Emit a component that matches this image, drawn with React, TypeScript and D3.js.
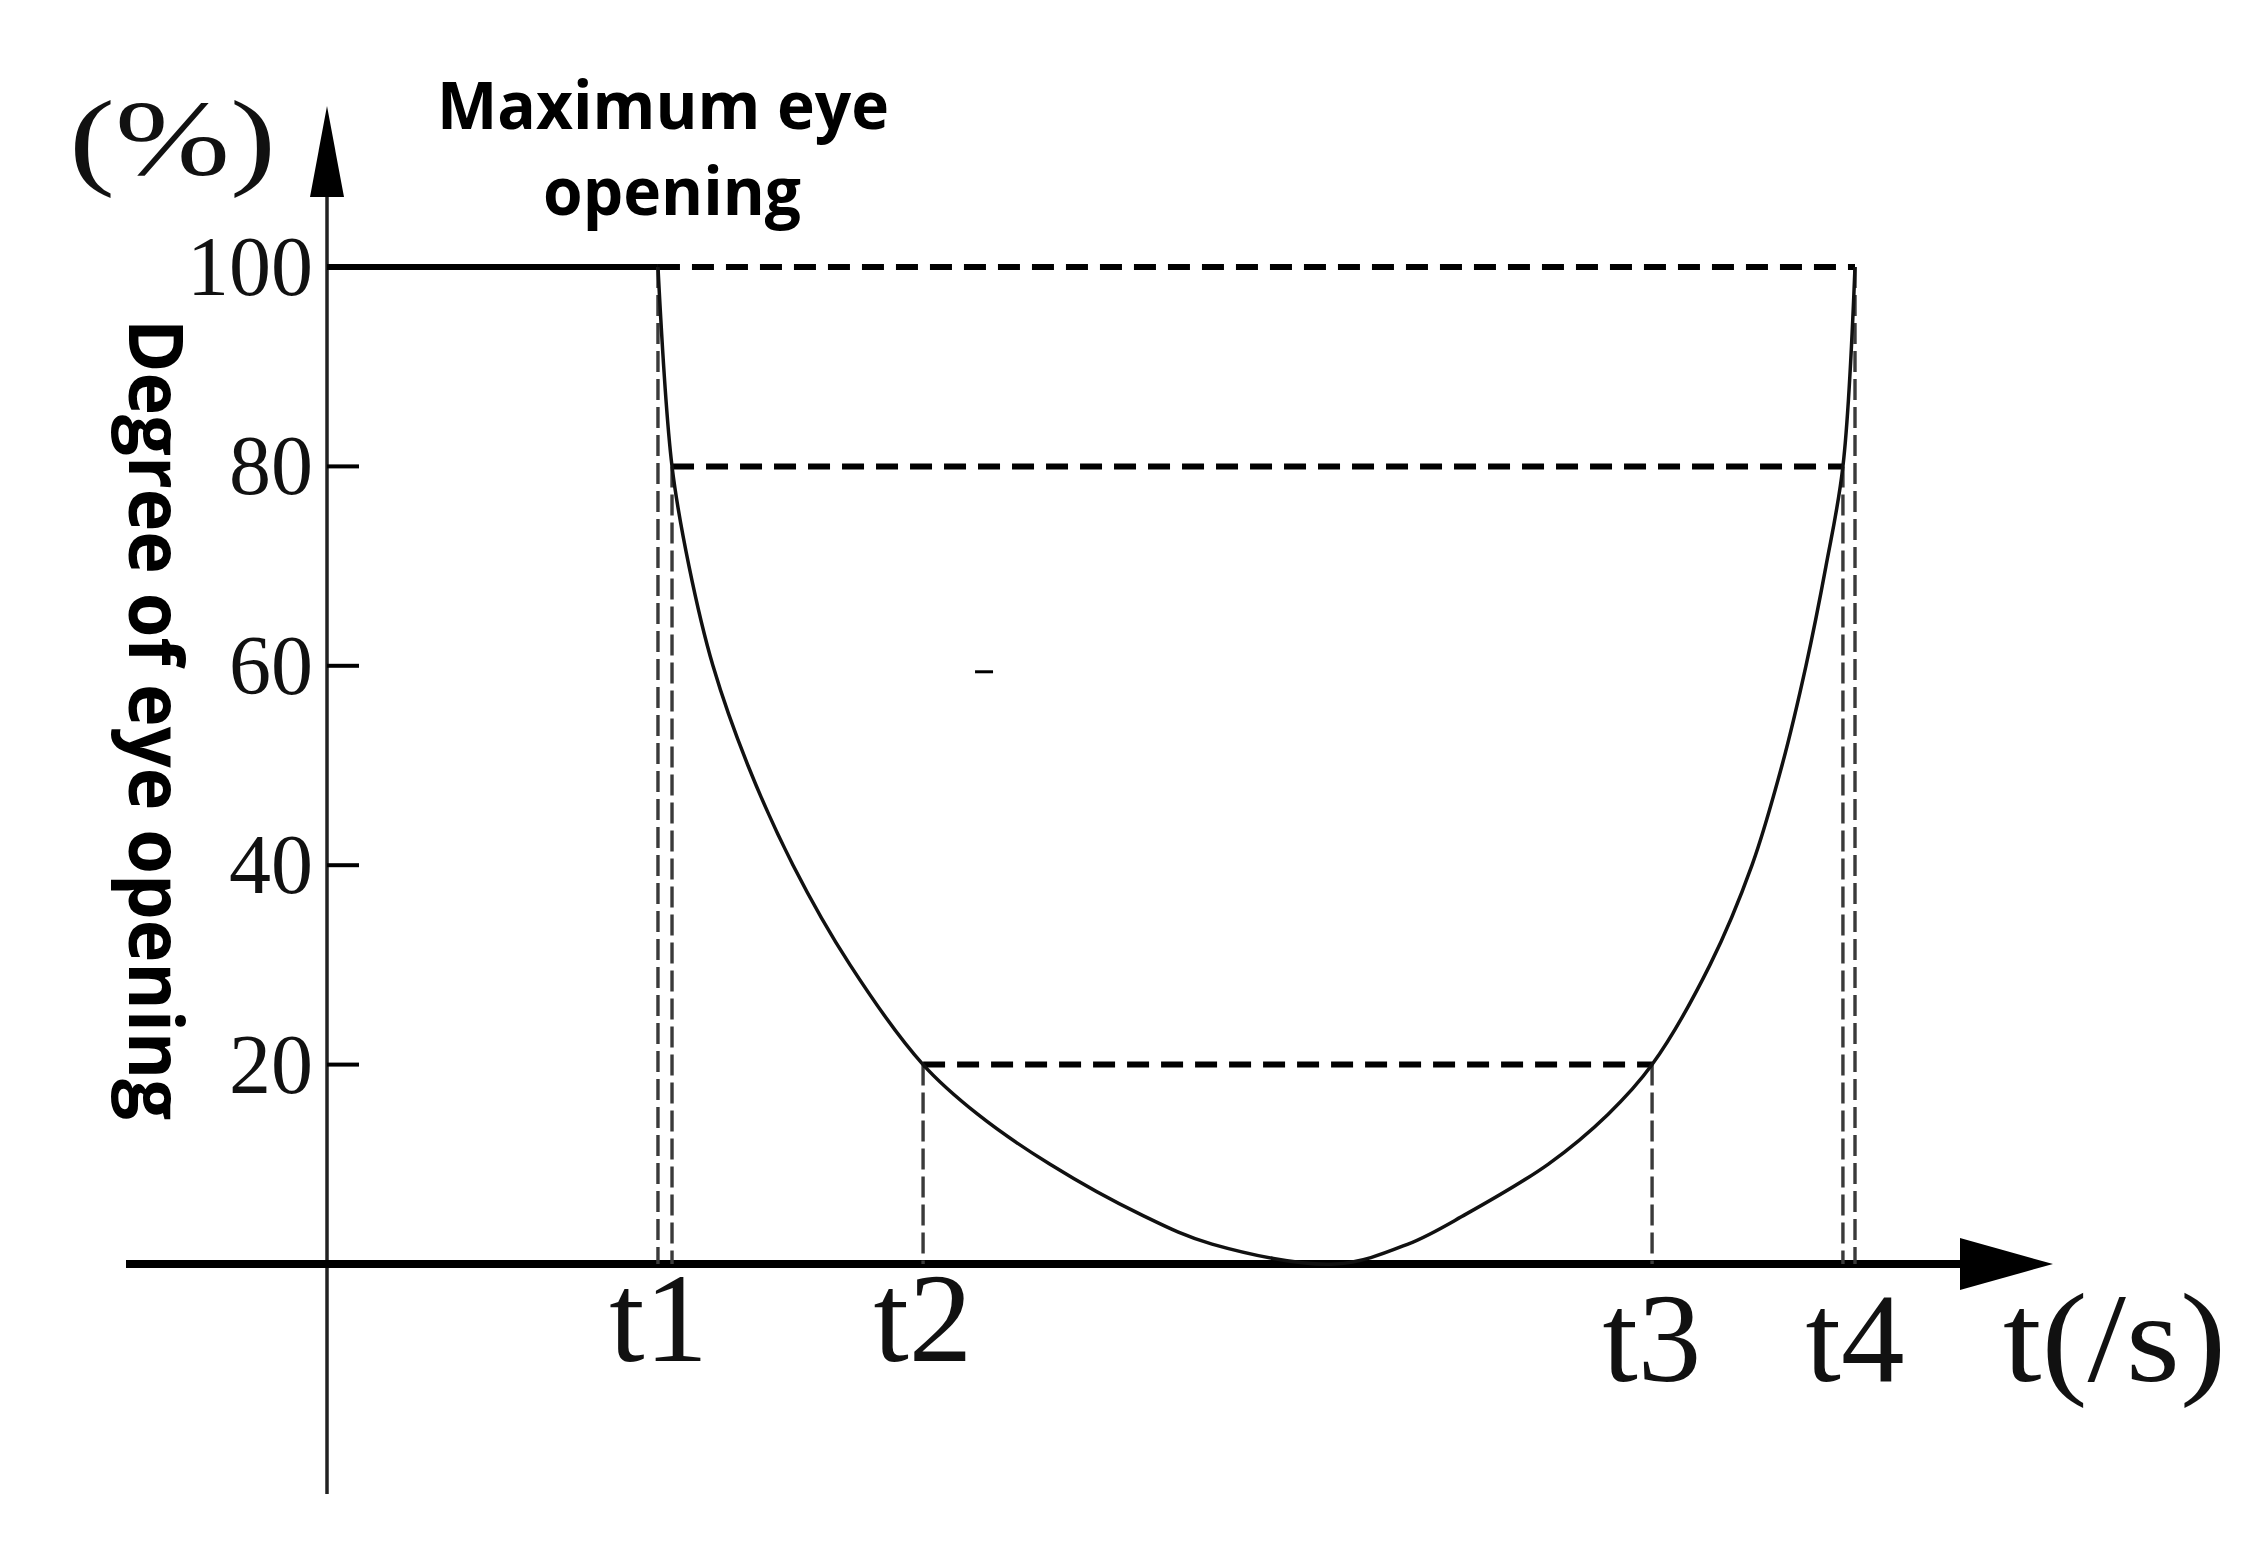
import React from 'react';
import * as d3 from 'd3';

// Eye opening curve (t in arbitrary time units, v in %)
const curveT = [2.166, 2.258, 2.369, 2.526, 2.755, 3.05, 3.423, 3.901, 4.26, 4.732, 5.321, 5.792, 6.597,
  7.075, 7.454, 7.991, 8.383, 8.672, 9.051, 9.326, 9.522, 9.679, 9.81, 9.921, 10.0];
const curveV = [100, 80, 70, 60, 50, 40, 30, 20, 15, 10, 5, 2, 0,
  2, 5, 10, 15, 20, 30, 40, 50, 60, 70, 80, 100];

// Y axis ticks
const yTicks = [20, 40, 60, 80, 100];
const yTickLabels = ['20', '40', '60', '80', '100'];

// Threshold crossings: t1 (100 / 80), t2 (20), t3 (20), t4 (80 / 100)
const crossT = [2.166, 2.258, 3.901, 8.672, 9.921, 10.0];
const crossV = [100, 80, 20, 20, 80, 100];

// Horizontal dashed guides: level, from, to
const guideLevel = [100, 80, 20];
const guideFrom = [2.166, 2.258, 3.901];
const guideTo = [10.0, 9.921, 8.672];

// X labels
const xLabels = ['t1', 't2', 't3', 't4'];
const xLabelT = [2.17, 3.9, 8.67, 10.0];

const maxLevel = 100;
const maxEndT = 2.166;

// small stray mark in the original figure
const strayT = 4.3;
const strayV = 59.4;

const W = 2252;
const H = 1541;

const serif = '"Liberation Serif", "Times New Roman", serif';
const sans = '"Open Sans", "Noto Sans", sans-serif';

const App = () => {
  const x = d3.scaleLinear().domain([0, 10]).range([327, 1855]);
  const y = d3.scaleLinear().domain([0, 100]).range([1264, 267]);

  const pts = curveT.map((t, i) => [t, curveV[i]] as [number, number]);
  const line = d3.line<[number, number]>()
    .x(d => x(d[0]))
    .y(d => y(d[1]))
    .curve(d3.curveCatmullRom.alpha(0.5));

  const x0 = x(0);
  const y0 = y(0);

  // axis extents / arrows
  const xAxisStart = 126;
  const xArrowBase = 1960;
  const xArrowTip = 2053;
  const yAxisBottom = 1494;
  const yArrowBase = 197;
  const yArrowTip = 106;

  return (
    <div style={{ position: 'absolute', left: 0, top: 0 }}>
      <svg width={W} height={H} style={{ display: 'block', background: '#fff' }}>
        {/* y axis */}
        <line x1={x0} x2={x0} y1={yAxisBottom} y2={yArrowBase} stroke="#222" strokeWidth={3.5} />
        <path d={`M${x0},${yArrowTip} L${x0 - 17},${yArrowBase} L${x0 + 17},${yArrowBase} Z`} fill="#000" />

        {/* x axis */}
        <line x1={xAxisStart} x2={xArrowBase} y1={y0} y2={y0} stroke="#000" strokeWidth={8} />
        <path d={`M${xArrowTip},${y0} L${xArrowBase},${y0 - 26} L${xArrowBase},${y0 + 26} Z`} fill="#000" />

        {/* y ticks */}
        {yTicks.filter(v => v < 100).map(v => (
          <line key={'tk' + v} x1={x0} x2={x0 + 32} y1={y(v)} y2={y(v)} stroke="#000" strokeWidth={4} />
        ))}
        {yTicks.map((v, i) => (
          <text key={'tl' + v} x={313} y={y(v) + 28} textAnchor="end" fontFamily={serif} fontSize={84} fill="#111">
            {yTickLabels[i]}
          </text>
        ))}

        {/* max opening solid segment */}
        <line x1={x0} x2={x(maxEndT)} y1={y(maxLevel)} y2={y(maxLevel)} stroke="#000" strokeWidth={6} />

        {/* vertical grey dashed drop lines */}
        {crossT.map((t, i) => (
          <line key={'v' + i} x1={x(t)} x2={x(t)} y1={y(crossV[i])} y2={y0}
            stroke="#3a3a3a" strokeWidth={3.4} strokeDasharray="21,7" />
        ))}

        {/* horizontal dashed guides */}
        {guideLevel.map((lv, i) => (
          <line key={'g' + i} x1={x(guideFrom[i])} x2={x(guideTo[i])} y1={y(lv)} y2={y(lv)}
            stroke="#000" strokeWidth={6} strokeDasharray="22,12" />
        ))}

        {/* curve */}
        <path d={line(pts) || ''} fill="none" stroke="#111" strokeWidth={3.5} />

        {/* stray mark */}
        <line x1={x(strayT) - 9} x2={x(strayT) + 9} y1={y(strayV)} y2={y(strayV)} stroke="#000" strokeWidth={3} />

        {/* x labels */}
        {xLabels.map((lb, i) => (
          <text key={lb} x={x(xLabelT[i])} y={i < 2 ? 1361 : 1381} textAnchor="middle"
            fontFamily={serif} fontSize={127} fill="#111">
            {lb}
          </text>
        ))}
        <text x={2003} y={1381} fontFamily={serif} fontSize={127} fill="#111"
          textLength={223} lengthAdjust="spacingAndGlyphs">t(/s)</text>

        {/* y unit */}
        <text x={69} y={175} fontFamily={serif} fontSize={108} fill="#111" textLength={207} lengthAdjust="spacingAndGlyphs">(%)</text>

        {/* annotation */}
        <text x={663} y={129} textAnchor="middle" fontFamily={sans} fontWeight={700} fontSize={67}
          textLength={452} lengthAdjust="spacingAndGlyphs" fill="#000">Maximum eye</text>
        <text x={672} y={215} textAnchor="middle" fontFamily={sans} fontWeight={700} fontSize={67}
          textLength={258} lengthAdjust="spacingAndGlyphs" fill="#000">opening</text>

        {/* y title */}
        <text transform="translate(129,319) rotate(90)" fontFamily={sans} fontWeight={700} fontSize={76}
          textLength={801} lengthAdjust="spacingAndGlyphs" fill="#000">Degree of eye opening</text>
      </svg>
    </div>
  );
};

export default App;
